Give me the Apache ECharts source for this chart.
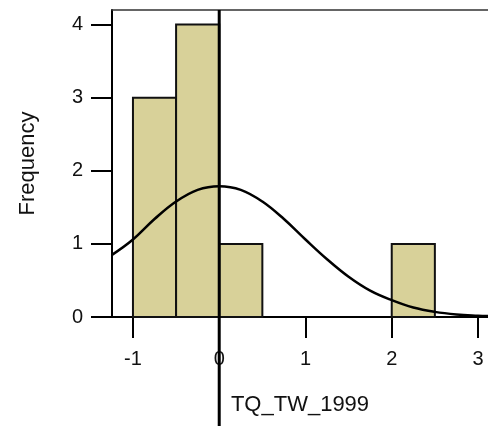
<!DOCTYPE html>
<html><head><meta charset="utf-8">
<script src="https://cdn.jsdelivr.net/npm/echarts@6/dist/echarts.min.js"></script>
<style>html,body{margin:0;padding:0;background:#fff}#c{width:488px;height:426px}</style>
</head><body><div id="c"></div>
<script>
// Histogram bins
const binStart = [-1, -0.5, 0, 0.5, 1, 1.5, 2];
const binEnd   = [-0.5, 0, 0.5, 1, 1.5, 2, 2.5];
const counts   = [3, 4, 1, 0, 0, 0, 1];
// Normal curve points
const curveX = [-1.243, -1, -0.75, -0.5, -0.25, 0, 0.25, 0.5, 0.75, 1, 1.25, 1.5, 1.75, 2, 2.25, 2.5, 2.75, 3, 3.116];
const curveY = [0.85, 1.06, 1.34, 1.58, 1.74, 1.79, 1.74, 1.58, 1.34, 1.06, 0.79, 0.55, 0.36, 0.23, 0.13, 0.07, 0.035, 0.017, 0.012];
// Axis ticks
const xTicks = [-1, 0, 1, 2, 3];
const yTicks = [0, 1, 2, 3, 4];
const xMin = -1.243, xMax = 3.116, yMin = 0, yMax = 4.2;
// Reference line at x = 0
const refLineX = [0, 0];
const refLineY = [0, 1];

const font = '"Liberation Sans", Arial, sans-serif';
const chart = echarts.init(document.getElementById('c'), null, {renderer: 'canvas'});

const barData = binStart.map((s, i) => [s, binEnd[i], counts[i]]);
const curveData = curveX.map((x, i) => [x, curveY[i]]);
const refData = refLineX.map((x, i) => [x, refLineY[i]]);

chart.setOption({
  animation: false,
  backgroundColor: '#fff',
  grid: [
    {left: 112, right: 0, top: 10, bottom: 109, outerBoundsMode: 'none'},
    {left: 112, right: 0, top: 10, bottom: 0, outerBoundsMode: 'none'}
  ],
  xAxis: [
    {
      type: 'value', gridIndex: 0, min: xMin, max: xMax, position: 'bottom',
      name: 'TQ_TW_1999', nameLocation: 'middle', nameGap: 77,
      nameTextStyle: {fontFamily: font, fontSize: 22, color: '#111'},
      axisLine: {show: true, onZero: false, lineStyle: {color: '#000', width: 2}},
      axisTick: {show: true, length: 21, customValues: xTicks, lineStyle: {color: '#000', width: 2}},
      axisLabel: {customValues: xTicks, margin: 32, fontFamily: font, fontSize: 20, color: '#111'},
      splitLine: {show: false}
    },
    {
      type: 'value', gridIndex: 0, min: xMin, max: xMax, position: 'top',
      axisLine: {show: true, onZero: false, lineStyle: {color: '#333', width: 1.5}},
      axisTick: {show: false}, axisLabel: {show: false}, splitLine: {show: false}
    },
    {
      type: 'value', gridIndex: 1, min: xMin, max: xMax, show: false
    }
  ],
  yAxis: [
    {
      type: 'value', gridIndex: 0, min: yMin, max: yMax,
      name: 'Frequency', nameLocation: 'middle', nameGap: 73, nameRotate: 90,
      nameTextStyle: {fontFamily: font, fontSize: 22, color: '#111'},
      axisLine: {show: true, onZero: false, lineStyle: {color: '#000', width: 2}},
      axisTick: {show: true, length: 21, customValues: yTicks, lineStyle: {color: '#000', width: 2}},
      axisLabel: {customValues: yTicks, margin: 29, fontFamily: font, fontSize: 20, color: '#111'},
      splitLine: {show: false}
    },
    {
      type: 'value', gridIndex: 1, min: 0, max: 1, show: false
    }
  ],
  series: [
    {
      type: 'custom', xAxisIndex: 0, yAxisIndex: 0, z: 2,
      data: barData,
      encode: {x: [0, 1], y: 2},
      renderItem: function (params, api) {
        const v = api.value(2);
        if (!(v > 0)) return null;
        const p0 = api.coord([api.value(0), v]);
        const p1 = api.coord([api.value(1), 0]);
        return {
          type: 'rect',
          shape: {x: p0[0], y: p0[1], width: p1[0] - p0[0], height: p1[1] - p0[1]},
          style: {fill: '#d8d199', stroke: '#111', lineWidth: 2}
        };
      }
    },
    {
      type: 'line', xAxisIndex: 0, yAxisIndex: 0, z: 3,
      data: curveData, smooth: 0.4, symbol: 'none',
      lineStyle: {color: '#000', width: 2.5}
    },
    {
      type: 'line', xAxisIndex: 2, yAxisIndex: 1, z: 5,
      data: refData, symbol: 'none',
      lineStyle: {color: '#000', width: 3}
    }
  ]
});
</script>
</body></html>
